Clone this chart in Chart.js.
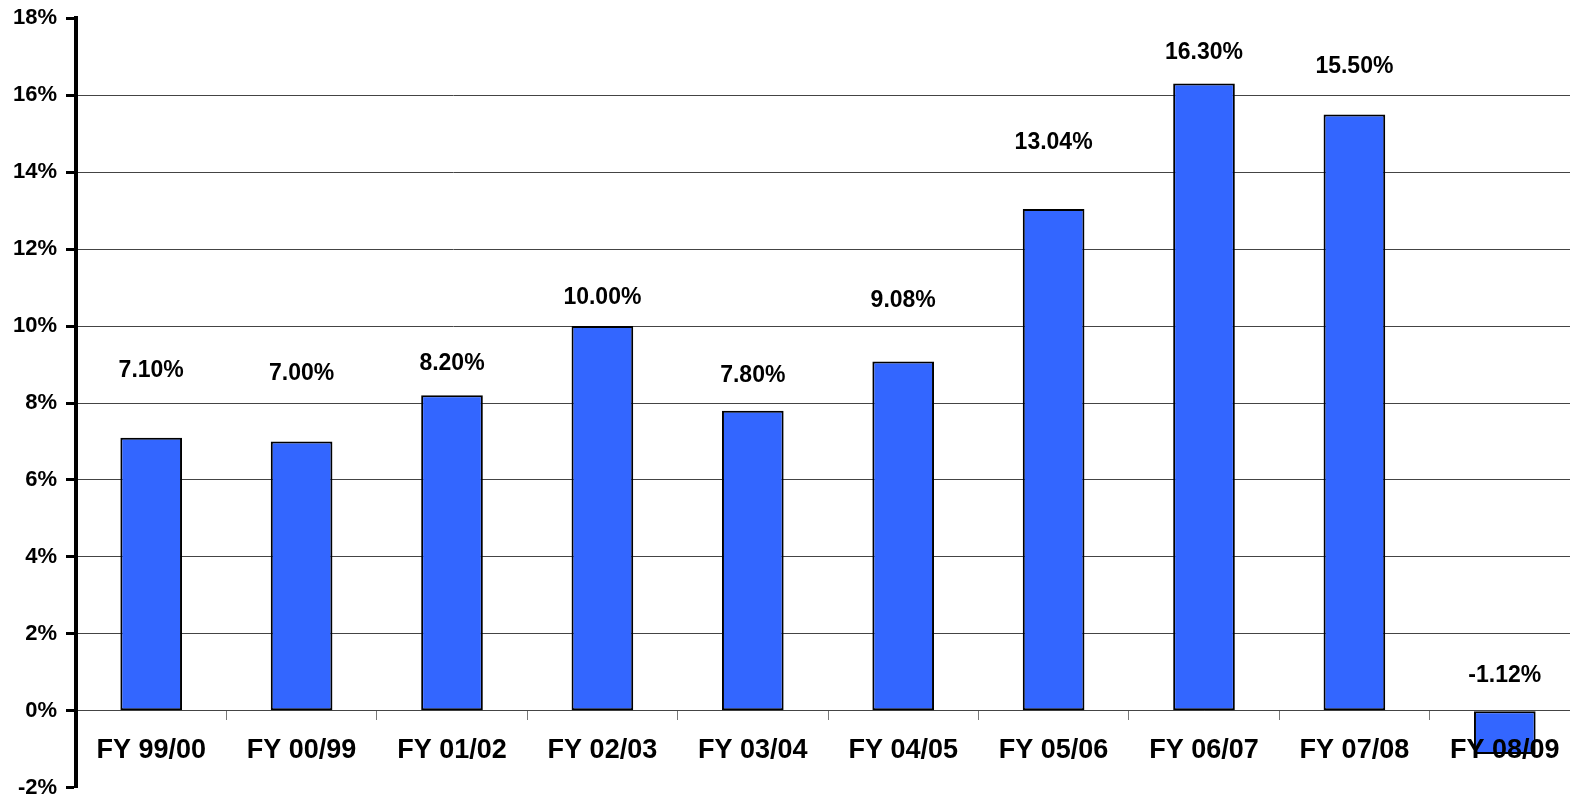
<!DOCTYPE html>
<html lang="en">
<head>
  <meta charset="UTF-8" />
  <title>Annual Growth by Fiscal Year</title>
  <script src="https://cdn.jsdelivr.net/npm/chart.js"></script>
  <style>
    html, body { margin: 0; padding: 0; overflow: hidden; background: #fff; }
    canvas { display: block; margin-top: -4px; }
  </style>
</head>
<body>
  <canvas id="growthChart" width="1582" height="814"></canvas>

  <script>
    const years = ["FY 99/00", "FY 00/99", "FY 01/02", "FY 02/03", "FY 03/04",
                   "FY 04/05", "FY 05/06", "FY 06/07", "FY 07/08", "FY 08/09"];
    const growth = [7.10, 7.00, 8.20, 10.00, 7.80, 9.08, 13.04, 16.30, 15.50, -1.12];
    const yTicks = [-2, 0, 2, 4, 6, 8, 10, 12, 14, 16, 18];

    // how far each value label sits above its bar (px)
    const labelLift = [68, 69, 33, 29, 36, 62, 67, 32, 49, 36];

    const FONT = "'Liberation Sans', Arial, sans-serif";

    const valueLabels = {
      id: "valueLabels",
      afterDatasetsDraw(chart) {
        const ctx = chart.ctx;
        const meta = chart.getDatasetMeta(0);
        const zeroY = chart.scales.y.getPixelForValue(0);
        ctx.save();
        ctx.font = "bold 23px " + FONT;
        ctx.fillStyle = "#000";
        ctx.textAlign = "center";
        ctx.textBaseline = "middle";
        meta.data.forEach((bar, i) => {
          const v = growth[i];
          const top = v >= 0 ? bar.y : zeroY;
          ctx.fillText(v.toFixed(2) + "%", bar.x, top - labelLift[i] + 1);
        });
        ctx.restore();
      }
    };

    new Chart(document.getElementById("growthChart"), {
      type: "bar",
      data: {
        labels: years,
        datasets: [{
          data: growth,
          backgroundColor: "#3366ff",
          borderColor: "#000",
          borderWidth: 2,
          borderSkipped: false,
          barPercentage: 0.41,
          categoryPercentage: 1
        }]
      },
      options: {
        responsive: false,
        animation: false,
        devicePixelRatio: 1,
        layout: { padding: { left: 0, right: 2, top: 13, bottom: 2 } },
        plugins: {
          legend: { display: false },
          tooltip: { enabled: false }
        },
        scales: {
          x: {
            position: { y: 0 },
            offset: true,
            border: { color: "#444", width: 1 },
            grid: {
              offset: true,
              drawOnChartArea: false,
              tickLength: 9,
              tickColor: "#777",
              tickWidth: 1
            },
            ticks: {
              z: 1, // category names sit on top of the negative bar
              color: "#000",
              padding: 15,
              maxRotation: 0,
              autoSkip: false,
              font: { family: FONT, size: 27, weight: "bold" }
            }
          },
          y: {
            min: -2,
            max: 18,
            afterBuildTicks(scale) {
              scale.ticks = yTicks.map(v => ({ value: v }));
            },
            afterFit(scale) { scale.width = 76; },
            border: { color: "#000", width: 4 },
            grid: {
              color: ctx => (ctx.tick && (ctx.tick.value === 18 || ctx.tick.value === -2)) ? "rgba(0,0,0,0)" : "#444",
              lineWidth: 1,
              tickLength: 10,
              tickColor: "#000",
              tickWidth: 3
            },
            ticks: {
              color: "#000",
              padding: 9,
              font: { family: FONT, size: 22, weight: "bold" },
              callback: v => v + "%"
            }
          }
        }
      },
      plugins: [valueLabels]
    });
  </script>
</body>
</html>
